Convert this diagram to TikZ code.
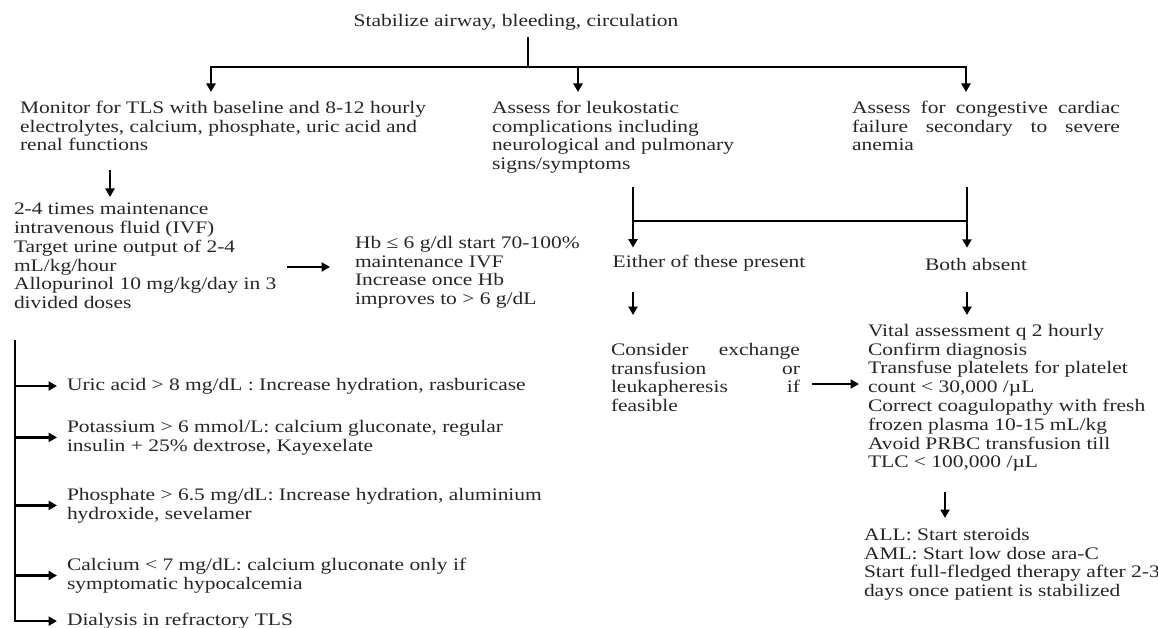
\documentclass[tikz,border=0pt]{standalone}
\usepackage{fontspec}
\setmainfont{Liberation Serif}[FakeStretch=1.22]
\usetikzlibrary{arrows.meta}
\newcommand{\chartfont}{\fontsize{17.6}{18.8}\selectfont}
\newcommand{\jline}[2]{\makebox[#1][s]{#2}}

\begin{document}
\begin{tikzpicture}[x=1pt, y=-1pt,
  every node/.style={inner sep=0pt, outer sep=0pt, font=\chartfont, text=black!85},
  txt/.style={anchor=north west, align=left},
  lbl/.style={anchor=base},
  line/.style={line width=2.6pt},
  arr/.style={line width=2.6pt, -{Triangle[width=9pt,length=8.5pt]}}]

\fill[white] (0,0) rectangle (1158,628);
\useasboundingbox (0,0) rectangle (1158,628);

\node[lbl] (stab) at (516,27) {Stabilize airway, bleeding, circulation};

\node[txt] (tls) at (20,101) {Monitor for TLS with baseline and 8-12 hourly\\electrolytes, calcium, phosphate, uric acid and\\renal functions};
\node[txt] (leuko) at (492,101) {Assess for leukostatic\\complications including\\neurological and pulmonary\\signs/symptoms};
\node[txt] (ccf) at (852,101) {\jline{268pt}{Assess for congestive cardiac}\\\jline{268pt}{failure secondary to severe}\\anemia};

\node[txt] (ivf) at (14,203) {2-4 times maintenance\\intravenous fluid (IVF)\\Target urine output of 2-4\\mL/kg/hour\\Allopurinol 10 mg/kg/day in 3\\divided doses};
\node[txt] (hb) at (355,236) {Hb ≤ 6 g/dl start 70-100\%\\maintenance IVF\\Increase once Hb\\improves to > 6 g/dL};

\node[lbl] (either) at (709,267) {Either of these present};
\node[lbl] (absent) at (976,270) {Both absent};

\node[txt] (exch) at (611,343) {\jline{189pt}{Consider exchange}\\\jline{189pt}{transfusion or}\\\jline{189pt}{leukapheresis if}\\feasible};
\node[txt] (vital) at (868,324) {Vital assessment q 2 hourly\\Confirm diagnosis\\Transfuse platelets for platelet\\count < 30,000 /µL\\Correct coagulopathy with fresh\\frozen plasma 10-15 mL/kg\\Avoid PRBC transfusion till\\TLC < 100,000 /µL};
\node[txt] (start) at (864,528) {ALL: Start steroids\\AML: Start low dose ara-C\\Start full-fledged therapy after 2-3\\days once patient is stabilized};

\node[txt] (uric) at (67,378) {Uric acid > 8 mg/dL : Increase hydration, rasburicase};
\node[txt] (potas) at (67,420) {Potassium > 6 mmol/L: calcium gluconate, regular\\insulin + 25\% dextrose, Kayexelate};
\node[txt] (phos) at (67,488) {Phosphate > 6.5 mg/dL: Increase hydration, aluminium\\hydroxide, sevelamer};
\node[txt] (calc) at (67,558) {Calcium < 7 mg/dL: calcium gluconate only if\\symptomatic hypocalcemia};
\node[txt] (dial) at (67,613) {Dialysis in refractory TLS};

\coordinate (stem) at (528,37);
\coordinate (bus) at (528,67);
\coordinate (busL) at (211,67);
\coordinate (busM) at (578,67);
\coordinate (busR) at (966,67);
\draw[line] (stem) -- (bus);
\draw[line, {Triangle[width=9pt,length=8.5pt]}-{Triangle[width=9pt,length=8.5pt]}, shorten <=9pt, shorten >=9pt]
  (busL |- tls.north) -- (busL) -- (busR) -- (busR |- ccf.north);
\draw[arr, shorten >=9pt] (busM) -- (busM |- leuko.north);

\coordinate (a1) at (110,170);
\draw[arr, shorten >=6pt] (a1) -- (a1 |- ivf.north);
\coordinate (a2) at (287,267);
\draw[arr, shorten >=25pt] (a2) -- (a2 -| hb.west);

\coordinate (sL) at (633,187);
\coordinate (sR) at (967,187);
\coordinate (hL) at (633,221);
\draw[arr, shorten >=7pt] (sL) -- (sL |- either.north);
\draw[arr, shorten >=10pt] (sR) -- (sR |- absent.north);
\draw[line] (hL) -- (hL -| sR);

\coordinate (dL) at (633,292);
\coordinate (dR) at (967,292);
\draw[arr, shorten >=28pt] (dL) -- (dL |- exch.north);
\draw[arr, shorten >=9pt] (dR) -- (dR |- vital.north);
\coordinate (a3) at (812,384);
\draw[arr, shorten >=9pt] (a3) -- (a3 -| vital.west);
\coordinate (a4) at (945,492);
\draw[arr, shorten >=10pt] (a4) -- (a4 |- start.north);

\coordinate (br) at (15,340);
\draw[arr, shorten >=10pt] (br) -- (br |- dial.west) -- (dial.west);
\foreach \n in {uric,potas,phos,calc}
  \draw[arr, shorten >=10pt] (br |- \n.west) -- (\n.west);
\end{tikzpicture}
\end{document}
